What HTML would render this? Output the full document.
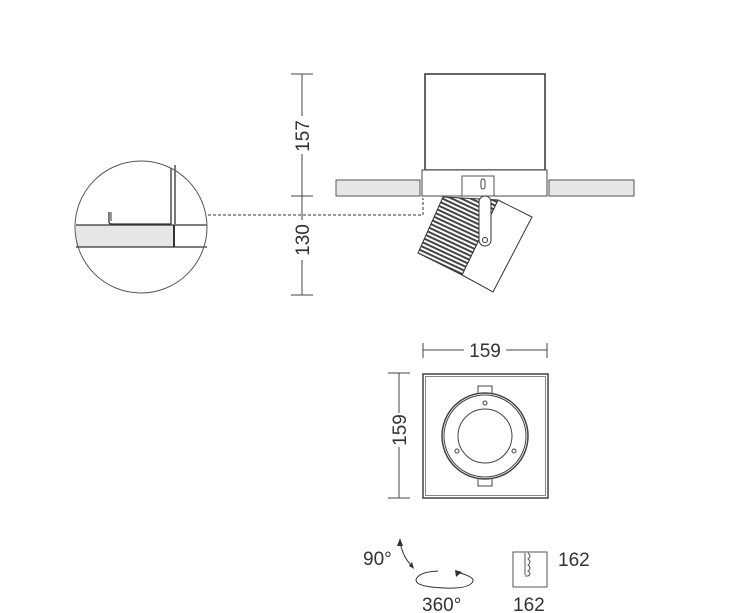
<!DOCTYPE html>
<html><head><meta charset="utf-8"><style>
body{margin:0;background:#fff}
svg{display:block}
text{font-family:"Liberation Sans",sans-serif;fill:#333;font-size:19px}
</style></head><body>
<svg width="750" height="613" viewBox="0 0 750 613" xmlns="http://www.w3.org/2000/svg">
<defs>
<pattern id="fins" width="4" height="4" patternUnits="userSpaceOnUse" patternTransform="rotate(25)">
<rect width="4" height="4" fill="#fff"/><rect width="4" height="2" fill="#444"/>
</pattern>
</defs>
<g stroke="#333" fill="none">
<rect x="76" y="225" width="97" height="22" fill="#e6e6e6" stroke="none"/>
<line x1="76" y1="225" x2="207" y2="225" stroke-width="1.3"/>
<line x1="76" y1="247" x2="207" y2="247" stroke-width="1.3"/>
<line x1="174" y1="225" x2="174" y2="247" stroke-width="2"/>
<line x1="171" y1="168" x2="171" y2="224" stroke-width="1.3"/>
<line x1="175" y1="165" x2="175" y2="224" stroke-width="1.3"/>
<path d="M109 212 V222 Q109 224 112 224 H171" stroke-width="1.3"/>
<path d="M111 212 V221"/>
<circle cx="141" cy="227" r="66" fill="none" stroke="#555"/>
</g>
<path d="M208 215 H423 V198" stroke="#333" stroke-dasharray="3,2" fill="none"/>
<g stroke="#444">
<line x1="302" y1="74" x2="302" y2="295"/>
<line x1="291" y1="74" x2="313" y2="74"/>
<line x1="291" y1="196" x2="313" y2="196"/>
<line x1="291" y1="295" x2="313" y2="295"/>
</g>
<rect x="292" y="116" width="20" height="38" fill="#fff"/>
<rect x="292" y="220" width="20" height="40" fill="#fff"/>
<text transform="translate(309,136) rotate(-90)" text-anchor="middle">157</text>
<text transform="translate(309,240) rotate(-90)" text-anchor="middle">130</text>
<rect x="336" y="180" width="84" height="16" fill="#e6e6e6" stroke="#555"/>
<rect x="549" y="180" width="85" height="16" fill="#e6e6e6" stroke="#555"/>
<rect x="425" y="74" width="120" height="96" fill="#fff" stroke="#333" stroke-width="1.5"/>
<rect x="422" y="170" width="125" height="26" fill="#fff" stroke="#444"/>
<rect x="462" y="176" width="32" height="20" fill="#fff" stroke="#555"/>
<rect x="481" y="179" width="4" height="10" rx="2" fill="none" stroke="#444"/>
<polygon points="498,200 532,217 493,292 462,275" fill="#fff" stroke="#333"/>
<polygon points="443,197 498,200 462,275 418,253" fill="url(#fins)" stroke="#333"/>
<rect x="479" y="196" width="12" height="50" rx="6" fill="#fff" stroke="#333"/>
<circle cx="485" cy="240" r="2.5" fill="none" stroke="#333"/>
<g stroke="#444" fill="none">
<line x1="423" y1="343" x2="423" y2="358"/>
<line x1="547" y1="343" x2="547" y2="358"/>
<line x1="423" y1="350" x2="464" y2="350"/>
<line x1="506" y1="350" x2="547" y2="350"/>
<line x1="388" y1="373" x2="410" y2="373"/>
<line x1="388" y1="498" x2="410" y2="498"/>
<line x1="399" y1="373" x2="399" y2="413"/>
<line x1="399" y1="447" x2="399" y2="498"/>
<rect x="423" y="374" width="125" height="124" stroke-width="1.5"/>
<rect x="425.5" y="376.5" width="120" height="119" stroke="#888"/>
<rect x="478" y="386" width="14" height="8" fill="#fff"/>
<rect x="478" y="478" width="14" height="8" fill="#fff"/>
<circle cx="485" cy="436" r="43" fill="#fff" stroke-width="1.5"/>
<circle cx="485" cy="436" r="41"/>
<circle cx="485" cy="436" r="27"/>
<circle cx="485" cy="403" r="2"/>
<circle cx="457" cy="451" r="2"/>
<circle cx="514" cy="451" r="2"/>
</g>
<text x="485" y="357" text-anchor="middle">159</text>
<text transform="translate(406,430) rotate(-90)" text-anchor="middle">159</text>
<text x="363" y="565">90°</text>
<path d="M400 542 Q403 558 413 567" stroke="#333" fill="none"/>
<path d="M397 546 L400 538 L403 546" fill="#333"/>
<path d="M409 566 L414 569 L412 562Z" fill="#333"/>
<path d="M460 573 Q474 577 473 581 Q470 589 445 588 Q416 587 416 580 Q418 572 438 571" stroke="#333" fill="none"/>
<path d="M455 570 L462 572 L456 577Z" fill="#333"/>
<text x="422" y="611">360°</text>
<rect x="513" y="552" width="34" height="35" fill="none" stroke="#555"/>
<path d="M525 553 V575 M528 553 Q532 556 528 559 Q532 562 528 565 Q532 568 528 571 Q532 574 528 576 H525" fill="none" stroke="#555"/>
<text x="558" y="566">162</text>
<text x="513" y="611">162</text>
</svg>
</body></html>
